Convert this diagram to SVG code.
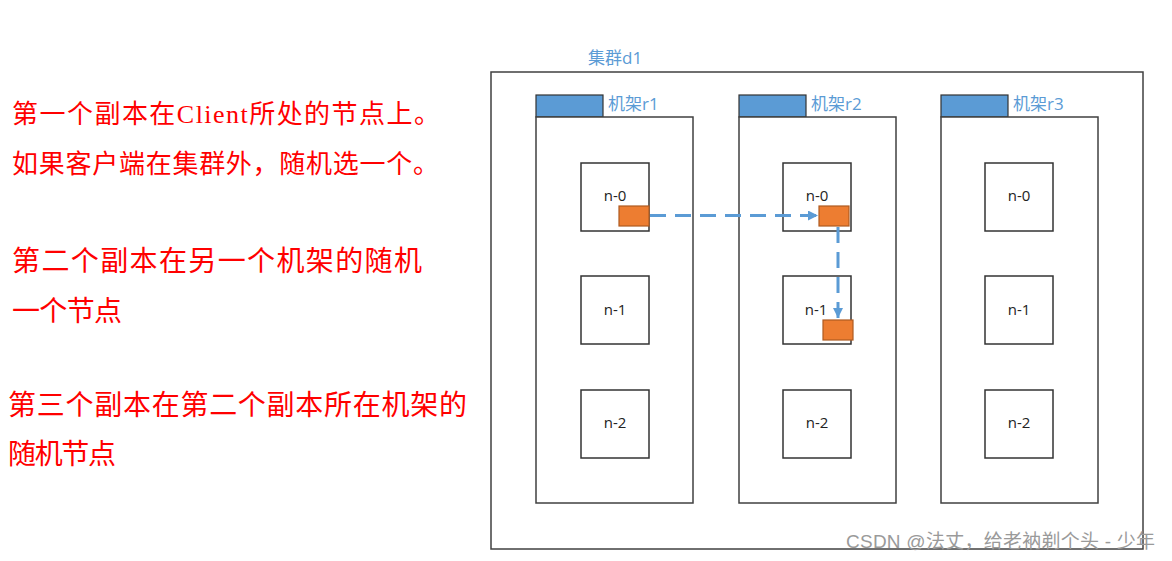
<svg xmlns="http://www.w3.org/2000/svg" width="1172" height="561" viewBox="0 0 1172 561">
<defs>
<style>
.frame{fill:#fff;stroke:#404040;stroke-width:1.5}
.tab{fill:#5b9bd5;stroke:#333;stroke-width:1.2}
.node{fill:#fff;stroke:#333;stroke-width:1.5}
.rep{fill:#ed7d31;stroke:#ae5a21;stroke-width:1.2}
.blue{font-family:"Open Sans","Liberation Sans","Noto Sans CJK SC",sans-serif;font-size:17px;fill:#5b9bd5}
.nl{font-family:"Open Sans","Liberation Sans",sans-serif;font-size:15px;fill:#222;text-anchor:middle}
.red{font-family:"Noto Sans CJK SC",sans-serif;font-size:26px;fill:#ff0000}
.big{font-size:28px}
.serif{font-family:"Liberation Serif",serif}
.link{fill:none;stroke:#5b9bd5;stroke-width:3;stroke-dasharray:16 9}
.wm{font-family:"Liberation Sans","Noto Sans CJK SC",sans-serif;font-size:19px;fill:#9a9a9a}
</style>
<marker id="arr" viewBox="0 0 10 10" refX="10" refY="5" markerWidth="10" markerHeight="10" markerUnits="userSpaceOnUse" orient="auto">
<path d="M0,0 L10,5 L0,10 Z" fill="#5b9bd5"/>
</marker>
</defs>
<rect width="1172" height="561" fill="#fff"/>

<g id="notes">
<text class="red" x="12" y="123" textLength="428" lengthAdjust="spacing">第一个副本在<tspan class="serif">Client</tspan>所处的节点上。</text>
<text class="red" x="12" y="173" textLength="427" lengthAdjust="spacing">如果客户端在集群外，随机选一个。</text>
<text class="red big" x="12" y="271" textLength="410" lengthAdjust="spacing">第二个副本在另一个机架的随机</text>
<text class="red big" x="12" y="321" textLength="110" lengthAdjust="spacing">一个节点</text>
<text class="red big" x="8" y="415" textLength="459" lengthAdjust="spacing">第三个副本在第二个副本所在机架的</text>
<text class="red big" x="8" y="464" textLength="108" lengthAdjust="spacing">随机节点</text>
</g>

<g id="cluster-d1">
<rect class="frame" x="491" y="72" width="652" height="477"/>
<text class="blue" x="588" y="64">集群d1</text>
</g>

<g id="rack-r1">
<rect class="tab" x="536" y="95" width="67" height="22"/>
<rect class="frame" x="536" y="117" width="157" height="386"/>
<text class="blue" x="608" y="110">机架r1</text>
</g>
<g id="rack-r2">
<rect class="tab" x="739" y="95" width="67" height="22"/>
<rect class="frame" x="739" y="117" width="157" height="386"/>
<text class="blue" x="811" y="110">机架r2</text>
</g>
<g id="rack-r3">
<rect class="tab" x="941" y="95" width="67" height="22"/>
<rect class="frame" x="941" y="117" width="157" height="386"/>
<text class="blue" x="1013" y="110">机架r3</text>
</g>

<g id="r1-n0"><rect class="node" x="581" y="163" width="68" height="68"/><text class="nl" x="615" y="201">n-0</text></g>
<g id="r1-n1"><rect class="node" x="581" y="276" width="68" height="68"/><text class="nl" x="615" y="315">n-1</text></g>
<g id="r1-n2"><rect class="node" x="581" y="390" width="68" height="68"/><text class="nl" x="615" y="428">n-2</text></g>
<g id="r2-n0"><rect class="node" x="783" y="163" width="68" height="68"/><text class="nl" x="817" y="201">n-0</text></g>
<g id="r2-n1"><rect class="node" x="783" y="276" width="68" height="68"/><text class="nl" x="816" y="315">n-1</text></g>
<g id="r2-n2"><rect class="node" x="783" y="390" width="68" height="68"/><text class="nl" x="817" y="428">n-2</text></g>
<g id="r3-n0"><rect class="node" x="985" y="163" width="68" height="68"/><text class="nl" x="1019" y="201">n-0</text></g>
<g id="r3-n1"><rect class="node" x="985" y="276" width="68" height="68"/><text class="nl" x="1019" y="315">n-1</text></g>
<g id="r3-n2"><rect class="node" x="985" y="390" width="68" height="68"/><text class="nl" x="1019" y="428">n-2</text></g>

<g id="replica-1"><rect class="rep" x="619" y="206" width="30" height="20"/></g>
<g id="replica-2"><rect class="rep" x="819" y="206" width="30" height="20"/></g>
<g id="replica-3"><rect class="rep" x="823" y="320" width="30" height="20"/></g>

<g id="connectors">
<path class="link" d="M650,215.5 H818" marker-end="url(#arr)"/>
<path class="link" d="M838,227 V318" marker-end="url(#arr)"/>
</g>

<text class="wm" x="846" y="548" textLength="309" lengthAdjust="spacing">CSDN @法丈，给老衲剃个头 - 少年</text>
</svg>
